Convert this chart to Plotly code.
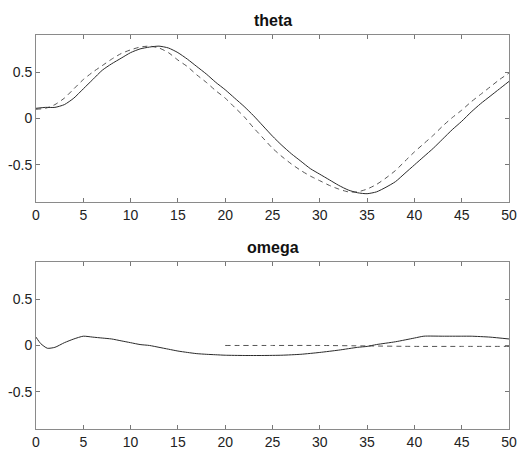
import plotly.graph_objects as go

# ---- data ----
t = list(range(0, 51))
theta_solid = [0.11, 0.12, 0.12, 0.15, 0.22, 0.32, 0.42, 0.52, 0.59, 0.65, 0.71, 0.75, 0.77, 0.78, 0.76,
               0.71, 0.64, 0.56, 0.48, 0.39, 0.31, 0.22, 0.13, 0.03, -0.08, -0.19, -0.29, -0.38, -0.46,
               -0.54, -0.60, -0.66, -0.72, -0.77, -0.80, -0.81, -0.79, -0.74, -0.68, -0.59, -0.50, -0.41,
               -0.32, -0.22, -0.12, -0.03, 0.07, 0.16, 0.24, 0.32, 0.40]
theta_dashed = [0.10, 0.11, 0.15, 0.22, 0.32, 0.42, 0.50, 0.57, 0.64, 0.70, 0.74, 0.77, 0.78, 0.76, 0.71,
                0.63, 0.56, 0.47, 0.39, 0.30, 0.22, 0.12, 0.02, -0.10, -0.21, -0.32, -0.41, -0.49, -0.56,
                -0.62, -0.67, -0.72, -0.76, -0.79, -0.79, -0.76, -0.71, -0.64, -0.56, -0.46, -0.36, -0.27,
                -0.18, -0.08, 0.01, 0.09, 0.18, 0.26, 0.34, 0.42, 0.49]
t_omega = [0, 0.5, 1.2, 2, 3, 4, 5, 6, 7, 8, 9, 10, 11, 12, 13, 14, 15, 16, 17, 18, 19, 20, 22, 24, 26,
           28, 30, 32, 34, 35, 36, 38, 40, 41, 43, 45, 46, 48, 50]
omega_solid = [0.09, 0.02, -0.03, -0.02, 0.03, 0.07, 0.10, 0.09, 0.08, 0.07, 0.05, 0.03, 0.01, 0.0,
               -0.02, -0.04, -0.06, -0.075, -0.088, -0.095, -0.10, -0.105, -0.108, -0.108, -0.105,
               -0.095, -0.075, -0.05, -0.02, -0.01, 0.01, 0.04, 0.08, 0.10, 0.10, 0.10, 0.10, 0.09, 0.07]
t_omega_ref = [20, 25, 30, 35, 40, 45, 50]
omega_dashed = [0.0, 0.0, 0.0, -0.005, -0.01, -0.01, -0.01]

x_ticks = [0, 5, 10, 15, 20, 25, 30, 35, 40, 45, 50]
y_ticks = [-0.5, 0, 0.5]
y_tick_text = ["-0.5", "0", "0.5"]

fig = go.Figure()
line_solid = dict(color="#2a2a2a", width=1, shape="spline", smoothing=0.6)
line_dash = dict(color="#555555", width=1, dash="5px,4px", shape="spline", smoothing=0.6)

fig.add_trace(go.Scatter(x=t, y=theta_dashed, mode="lines", line=line_dash, xaxis="x", yaxis="y", showlegend=False))
fig.add_trace(go.Scatter(x=t, y=theta_solid, mode="lines", line=line_solid, xaxis="x", yaxis="y", showlegend=False))
fig.add_trace(go.Scatter(x=t_omega_ref, y=omega_dashed, mode="lines", line=line_dash, xaxis="x2", yaxis="y2", showlegend=False))
fig.add_trace(go.Scatter(x=t_omega, y=omega_solid, mode="lines", line=line_solid, xaxis="x2", yaxis="y2", showlegend=False))

ax_common = dict(showgrid=False, zeroline=False, showline=True, linecolor="#8a8a8a", linewidth=1,
                 mirror="ticks", ticks="inside", ticklen=4, tickcolor="#777777", automargin=False,
                 tickfont=dict(family="Arial, Liberation Sans", size=14, color="#222222"))

fig.update_layout(
    width=519, height=452,
    paper_bgcolor="white", plot_bgcolor="white",
    margin=dict(l=36, r=10, t=35, b=23),
    xaxis=dict(ax_common, domain=[0, 1], range=[0, 50], tickvals=x_ticks, anchor="y"),
    yaxis=dict(ax_common, domain=[0.576, 1], range=[-0.9, 0.9], tickvals=y_ticks, ticktext=y_tick_text, anchor="x"),
    xaxis2=dict(ax_common, domain=[0, 1], range=[0, 50], tickvals=x_ticks, anchor="y2"),
    yaxis2=dict(ax_common, domain=[0, 0.424], range=[-0.9, 0.9], tickvals=y_ticks, ticktext=y_tick_text, anchor="x2"),
    annotations=[
        dict(text="<b>theta</b>", x=0.5, xref="paper", y=1, yref="paper", yanchor="bottom", yshift=4,
             showarrow=False, font=dict(family="Arial, Liberation Sans", size=16, color="#111111")),
        dict(text="<b>omega</b>", x=0.5, xref="paper", y=0.424, yref="paper", yanchor="bottom", yshift=4,
             showarrow=False, font=dict(family="Arial, Liberation Sans", size=16, color="#111111")),
    ],
)

fig.write_html("out.html", config={"displayModeBar": False},
               post_script="document.body.style.margin='0';document.body.style.overflow='hidden';")
